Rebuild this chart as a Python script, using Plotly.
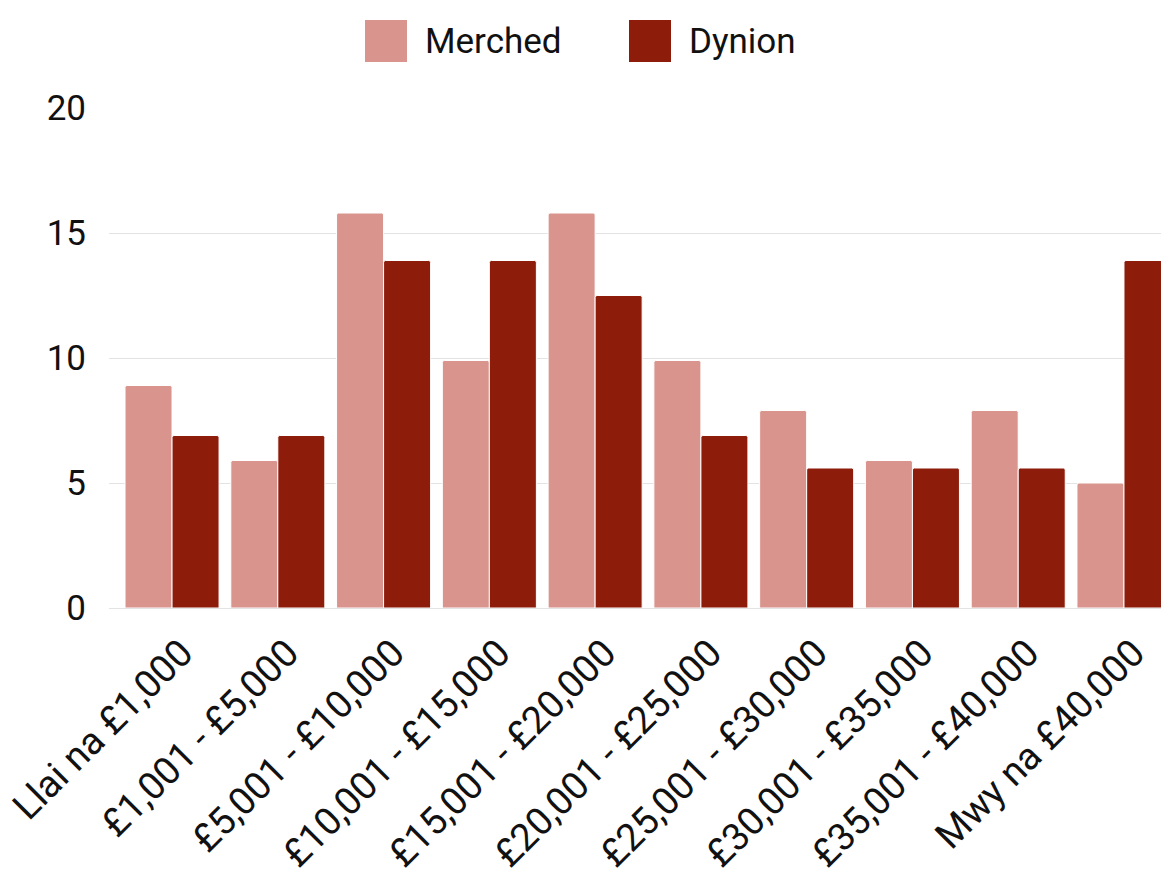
import plotly.graph_objects as go

# income bands (Welsh labels) and share of each group, %
categories = [
    "Llai na £1,000", "£1,001 - £5,000", "£5,001 - £10,000", "£10,001 - £15,000",
    "£15,001 - £20,000", "£20,001 - £25,000", "£25,001 - £30,000",
    "£30,001 - £35,000", "£35,001 - £40,000", "Mwy na £40,000",
]
series_names = ["Merched", "Dynion"]
merched = [8.9, 5.9, 15.8, 9.9, 15.8, 9.9, 7.9, 5.9, 7.9, 5.0]
dynion = [6.9, 6.9, 13.9, 13.9, 12.5, 6.9, 5.6, 5.6, 5.6, 13.9]
y_ticks = [0, 5, 10, 15, 20]

colors = ["#d9948d", "#8d1c0b"]
FONT = "Roboto"

W, H = 1161, 881
ML, MT, MB = 109, 108, 273
PW, PH = W - ML, H - MT - MB


def px_to_paper(x, y):
    # screen pixels -> paper coords
    return (x - ML) / PW, 1 - (y - MT) / PH


fig = go.Figure()
for name, vals, col in zip(series_names, [merched, dynion], colors):
    fig.add_trace(go.Bar(
        x=list(range(len(categories))),
        y=vals,
        name=name,
        marker=dict(color=col, line=dict(color="white", width=1), cornerradius=2),
        showlegend=False,
    ))

# big square legend keys, drawn by hand (plotly caps legend symbol size)
legend_x = [365, 629]
for i, (name, col) in enumerate(zip(series_names, colors)):
    x0, y1 = px_to_paper(legend_x[i], 20)
    x1, y0 = px_to_paper(legend_x[i] + 42, 62)
    fig.add_shape(type="rect", xref="paper", yref="paper",
                  x0=x0, x1=x1, y0=y0, y1=y1,
                  fillcolor=col, line=dict(width=0))
    tx, ty = px_to_paper(legend_x[i] + 58, 42)
    fig.add_annotation(xref="paper", yref="paper", x=tx, y=ty, text=name,
                       showarrow=False, xanchor="left", yanchor="middle",
                       font=dict(family=FONT, size=35, color="#111111"))

fig.update_layout(
    width=W, height=H,
    margin=dict(l=ML, r=0, t=MT, b=MB),
    barmode="group", bargap=0.111, bargroupgap=0,
    plot_bgcolor="white", paper_bgcolor="white",
    font=dict(family=FONT, size=35, color="#111111"),
    showlegend=False,
)
# labels sit a little right of the group centre in the original
label_shift = 0.09
fig.update_xaxes(
    tickmode="array", tickvals=[i + label_shift for i in range(len(categories))],
    ticktext=categories, tickangle=-45, range=[-0.596, 9.35],
    showgrid=False, zeroline=False, showline=False, ticks="",
    ticklabelstandoff=14, ticklabeloverflow="allow",
    tickfont=dict(family=FONT, size=38, color="#111111"),
)
fig.update_yaxes(
    range=[0, 20], tickvals=y_ticks, showgrid=True, gridcolor="#e3e3e3",
    gridwidth=1, zeroline=True, zerolinecolor="#e3e3e3", zerolinewidth=1,
    ticks="", ticklabelstandoff=22,
)

# drop the default body margin so the figure fills the window exactly
fig.write_html("out.html",
               config={"displayModeBar": False},
               post_script="document.body.style.margin='0';"
                           "document.body.style.overflow='hidden';")
